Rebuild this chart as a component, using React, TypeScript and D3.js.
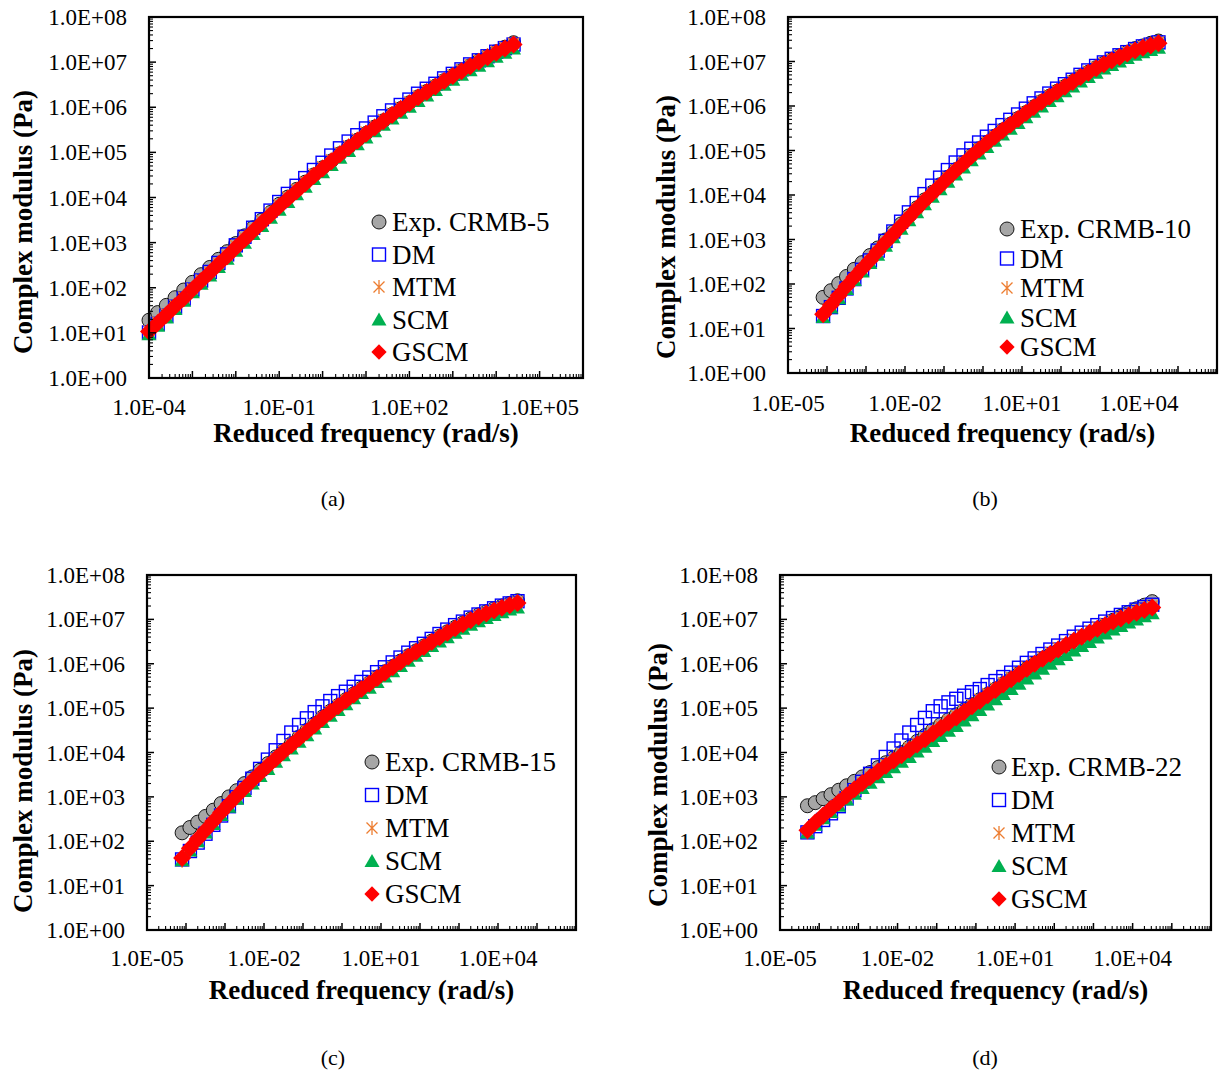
import React from "react";
import * as d3 from "d3";

// log10 of reduced frequency (rad/s) and log10 of complex modulus (Pa)
const logFreqA = [-4.0, -3.8, -3.6, -3.4, -3.2, -3.0, -2.8, -2.6, -2.4, -2.2, -2.0, -1.8, -1.6, -1.4, -1.2, -1.0, -0.8, -0.6, -0.4, -0.2, 0.0, 0.2, 0.4, 0.6, 0.8, 1.0, 1.2, 1.4, 1.6, 1.8, 2.0, 2.2, 2.4, 2.6, 2.8, 3.0, 3.2, 3.4, 3.6, 3.8, 4.0, 4.2, 4.4];
const expA = [1.28, 1.45, 1.61, 1.78, 1.95, 2.12, 2.29, 2.45, 2.63, 2.8, 2.98, 3.15, 3.33, 3.5, 3.67, 3.85, 4.01, 4.18, 4.34, 4.5, 4.66, 4.81, 4.97, 5.12, 5.27, 5.42, 5.56, 5.7, 5.84, 5.97, 6.1, 6.23, 6.35, 6.47, 6.59, 6.7, 6.81, 6.92, 7.03, 7.13, 7.23, 7.33, 7.43];
const dmA = [1.01, 1.2, 1.38, 1.58, 1.76, 1.96, 2.16, 2.35, 2.55, 2.74, 2.94, 3.13, 3.33, 3.52, 3.71, 3.9, 4.08, 4.26, 4.43, 4.61, 4.77, 4.93, 5.09, 5.24, 5.38, 5.53, 5.66, 5.8, 5.93, 6.05, 6.17, 6.3, 6.41, 6.52, 6.64, 6.74, 6.84, 6.95, 7.04, 7.13, 7.23, 7.31, 7.39];
const mtmA = [1.05, 1.24, 1.42, 1.61, 1.79, 1.98, 2.17, 2.35, 2.54, 2.72, 2.93, 3.11, 3.3, 3.48, 3.66, 3.84, 4.01, 4.18, 4.35, 4.52, 4.68, 4.84, 5.0, 5.15, 5.3, 5.45, 5.59, 5.73, 5.87, 6.0, 6.12, 6.25, 6.37, 6.49, 6.61, 6.72, 6.83, 6.94, 7.04, 7.14, 7.24, 7.33, 7.42];
const scmA = [0.97, 1.16, 1.34, 1.53, 1.71, 1.9, 2.09, 2.27, 2.46, 2.64, 2.82, 3.0, 3.19, 3.37, 3.55, 3.73, 3.9, 4.07, 4.24, 4.41, 4.56, 4.72, 4.88, 5.03, 5.18, 5.33, 5.47, 5.61, 5.75, 5.88, 6.01, 6.14, 6.26, 6.38, 6.5, 6.61, 6.72, 6.82, 6.92, 7.02, 7.12, 7.21, 7.3];
const gscmA = [1.03, 1.22, 1.4, 1.59, 1.77, 1.96, 2.15, 2.33, 2.52, 2.7, 2.89, 3.07, 3.26, 3.44, 3.62, 3.8, 3.97, 4.14, 4.31, 4.48, 4.64, 4.8, 4.96, 5.11, 5.26, 5.41, 5.55, 5.69, 5.83, 5.96, 6.09, 6.22, 6.34, 6.46, 6.58, 6.69, 6.8, 6.91, 7.01, 7.11, 7.21, 7.3, 7.39];

const logFreqB = [-4.1, -3.9, -3.7, -3.5, -3.3, -3.1, -2.9, -2.7, -2.5, -2.3, -2.1, -1.9, -1.7, -1.5, -1.3, -1.1, -0.9, -0.7, -0.5, -0.3, -0.1, 0.1, 0.3, 0.5, 0.7, 0.9, 1.1, 1.3, 1.5, 1.7, 1.9, 2.1, 2.3, 2.5, 2.7, 2.9, 3.1, 3.3, 3.5, 3.7, 3.9, 4.1, 4.3, 4.5];
const expB = [1.7, 1.85, 2.01, 2.17, 2.33, 2.48, 2.64, 2.81, 2.99, 3.17, 3.35, 3.53, 3.71, 3.89, 4.06, 4.23, 4.4, 4.57, 4.73, 4.89, 5.04, 5.18, 5.32, 5.46, 5.59, 5.72, 5.85, 5.98, 6.1, 6.22, 6.33, 6.44, 6.55, 6.66, 6.76, 6.86, 6.96, 7.04, 7.13, 7.21, 7.29, 7.35, 7.41, 7.46];
const dmB = [1.28, 1.48, 1.69, 1.9, 2.11, 2.32, 2.53, 2.75, 2.97, 3.18, 3.4, 3.61, 3.82, 4.02, 4.21, 4.39, 4.56, 4.73, 4.89, 5.04, 5.18, 5.31, 5.44, 5.57, 5.69, 5.81, 5.94, 6.06, 6.17, 6.28, 6.39, 6.49, 6.59, 6.7, 6.8, 6.9, 6.98, 7.06, 7.14, 7.21, 7.28, 7.34, 7.38, 7.43];
const mtmB = [1.28, 1.48, 1.69, 1.9, 2.11, 2.3, 2.5, 2.7, 2.91, 3.11, 3.3, 3.5, 3.69, 3.88, 4.05, 4.22, 4.4, 4.57, 4.73, 4.89, 5.04, 5.19, 5.33, 5.47, 5.61, 5.74, 5.87, 6.0, 6.12, 6.24, 6.35, 6.46, 6.57, 6.68, 6.78, 6.88, 6.97, 7.05, 7.13, 7.21, 7.28, 7.34, 7.39, 7.44];
const scmB = [1.26, 1.47, 1.68, 1.89, 2.09, 2.28, 2.47, 2.66, 2.86, 3.05, 3.24, 3.43, 3.61, 3.79, 3.96, 4.13, 4.3, 4.46, 4.62, 4.78, 4.93, 5.08, 5.22, 5.36, 5.49, 5.62, 5.75, 5.87, 5.99, 6.11, 6.22, 6.33, 6.44, 6.55, 6.65, 6.75, 6.84, 6.92, 7.0, 7.08, 7.15, 7.21, 7.26, 7.31];
const gscmB = [1.32, 1.53, 1.74, 1.95, 2.15, 2.34, 2.53, 2.73, 2.93, 3.12, 3.31, 3.5, 3.69, 3.87, 4.04, 4.21, 4.38, 4.55, 4.71, 4.87, 5.02, 5.17, 5.31, 5.45, 5.58, 5.71, 5.84, 5.97, 6.09, 6.21, 6.32, 6.43, 6.54, 6.65, 6.75, 6.85, 6.94, 7.02, 7.1, 7.18, 7.25, 7.31, 7.36, 7.41];

const logFreqC = [-4.1, -3.9, -3.7, -3.5, -3.3, -3.1, -2.9, -2.7, -2.5, -2.3, -2.1, -1.9, -1.7, -1.5, -1.3, -1.1, -0.9, -0.7, -0.5, -0.3, -0.1, 0.1, 0.3, 0.5, 0.7, 0.9, 1.1, 1.3, 1.5, 1.7, 1.9, 2.1, 2.3, 2.5, 2.7, 2.9, 3.1, 3.3, 3.5, 3.7, 3.9, 4.1, 4.3, 4.5];
const expC = [2.19, 2.31, 2.43, 2.56, 2.7, 2.85, 3.0, 3.14, 3.3, 3.45, 3.6, 3.75, 3.9, 4.05, 4.2, 4.35, 4.5, 4.65, 4.8, 4.93, 5.06, 5.19, 5.32, 5.45, 5.57, 5.7, 5.82, 5.94, 6.06, 6.18, 6.29, 6.4, 6.51, 6.62, 6.72, 6.82, 6.92, 7.01, 7.1, 7.17, 7.24, 7.3, 7.36, 7.42];
const dmC = [1.59, 1.78, 1.97, 2.17, 2.37, 2.58, 2.79, 2.99, 3.2, 3.41, 3.63, 3.84, 4.05, 4.26, 4.45, 4.62, 4.77, 4.91, 5.04, 5.16, 5.27, 5.37, 5.48, 5.59, 5.69, 5.81, 5.92, 6.03, 6.14, 6.25, 6.35, 6.45, 6.56, 6.67, 6.77, 6.87, 6.95, 7.04, 7.11, 7.18, 7.25, 7.31, 7.36, 7.41];
const mtmC = [1.56, 1.78, 1.99, 2.19, 2.39, 2.6, 2.79, 2.98, 3.17, 3.35, 3.53, 3.7, 3.87, 4.03, 4.18, 4.34, 4.49, 4.64, 4.79, 4.93, 5.06, 5.19, 5.32, 5.45, 5.57, 5.7, 5.82, 5.94, 6.06, 6.18, 6.29, 6.4, 6.51, 6.62, 6.72, 6.82, 6.91, 7.0, 7.08, 7.15, 7.22, 7.28, 7.34, 7.39];
const scmC = [1.57, 1.79, 2.0, 2.2, 2.39, 2.59, 2.78, 2.96, 3.13, 3.3, 3.47, 3.63, 3.79, 3.94, 4.09, 4.24, 4.39, 4.54, 4.69, 4.83, 4.96, 5.09, 5.22, 5.34, 5.46, 5.59, 5.71, 5.83, 5.95, 6.07, 6.18, 6.29, 6.4, 6.5, 6.6, 6.7, 6.79, 6.88, 6.96, 7.03, 7.1, 7.16, 7.22, 7.27];
const gscmC = [1.62, 1.84, 2.05, 2.25, 2.45, 2.65, 2.84, 3.02, 3.2, 3.37, 3.54, 3.7, 3.86, 4.02, 4.17, 4.32, 4.47, 4.62, 4.77, 4.91, 5.04, 5.17, 5.3, 5.43, 5.55, 5.68, 5.8, 5.92, 6.04, 6.16, 6.27, 6.38, 6.49, 6.6, 6.7, 6.8, 6.89, 6.98, 7.06, 7.13, 7.2, 7.26, 7.32, 7.37];

const logFreqD = [-4.3, -4.1, -3.9, -3.7, -3.5, -3.3, -3.1, -2.9, -2.7, -2.5, -2.3, -2.1, -1.9, -1.7, -1.5, -1.3, -1.1, -0.9, -0.7, -0.5, -0.3, -0.1, 0.1, 0.3, 0.5, 0.7, 0.9, 1.1, 1.3, 1.5, 1.7, 1.9, 2.1, 2.3, 2.5, 2.7, 2.9, 3.1, 3.3, 3.5, 3.7, 3.9, 4.1, 4.3, 4.5];
const expD = [2.8, 2.87, 2.96, 3.05, 3.15, 3.25, 3.35, 3.45, 3.55, 3.66, 3.77, 3.88, 4.0, 4.12, 4.25, 4.38, 4.51, 4.63, 4.74, 4.85, 4.96, 5.08, 5.19, 5.31, 5.43, 5.55, 5.66, 5.78, 5.89, 6.0, 6.11, 6.21, 6.3, 6.37, 6.42, 6.49, 6.62, 6.75, 6.87, 6.98, 7.07, 7.16, 7.24, 7.32, 7.4];
const dmD = [2.2, 2.34, 2.48, 2.63, 2.79, 2.97, 3.15, 3.34, 3.52, 3.71, 3.9, 4.09, 4.27, 4.45, 4.62, 4.78, 4.93, 5.04, 5.13, 5.21, 5.28, 5.36, 5.43, 5.52, 5.61, 5.7, 5.8, 5.91, 6.02, 6.12, 6.22, 6.32, 6.41, 6.51, 6.61, 6.7, 6.79, 6.87, 6.95, 7.03, 7.1, 7.16, 7.22, 7.28, 7.33];
const mtmD = [2.2, 2.37, 2.53, 2.69, 2.85, 3.01, 3.16, 3.31, 3.45, 3.59, 3.73, 3.86, 3.98, 4.1, 4.22, 4.34, 4.47, 4.59, 4.71, 4.83, 4.95, 5.08, 5.2, 5.33, 5.45, 5.57, 5.69, 5.81, 5.93, 6.04, 6.15, 6.26, 6.36, 6.46, 6.56, 6.65, 6.74, 6.83, 6.91, 6.98, 7.05, 7.12, 7.18, 7.24, 7.3];
const scmD = [2.2, 2.37, 2.52, 2.66, 2.8, 2.94, 3.07, 3.2, 3.32, 3.44, 3.56, 3.67, 3.79, 3.9, 4.02, 4.13, 4.26, 4.37, 4.49, 4.6, 4.72, 4.84, 4.96, 5.08, 5.2, 5.32, 5.43, 5.55, 5.67, 5.78, 5.89, 6.0, 6.1, 6.2, 6.3, 6.4, 6.49, 6.59, 6.68, 6.77, 6.85, 6.93, 7.0, 7.07, 7.14];
const gscmD = [2.25, 2.42, 2.58, 2.73, 2.88, 3.03, 3.17, 3.31, 3.44, 3.57, 3.7, 3.82, 3.94, 4.06, 4.18, 4.3, 4.43, 4.55, 4.67, 4.79, 4.91, 5.04, 5.16, 5.29, 5.41, 5.53, 5.65, 5.77, 5.89, 6.0, 6.11, 6.22, 6.32, 6.42, 6.52, 6.61, 6.7, 6.79, 6.87, 6.95, 7.02, 7.09, 7.15, 7.21, 7.27];

const seriesNames = ["DM", "MTM", "SCM", "GSCM"];
const samples = ["CRMB-5", "CRMB-10", "CRMB-15", "CRMB-22"];
const yTickExps = [0, 1, 2, 3, 4, 5, 6, 7, 8];
const xTickExpsA = [-4, -1, 2, 5];
const xTickExpsBCD = [-5, -2, 1, 4];

const FONT = "'Liberation Serif', 'Times New Roman', serif";

const fmtExp = (e: number) => `1.0E${e < 0 ? "-" : "+"}${String(Math.abs(e)).padStart(2, "0")}`;

const panels = [
  { cap: "(a)", box: [149, 583, 17, 378], xDom: [-4, 6], xTicks: xTickExpsA, f: logFreqA, exp: expA, models: [dmA, mtmA, scmA, gscmA], sample: samples[0], yLab: 127, yTitle: [23, 222], xLabY: 415, xTitY: 442, leg: [379, 392, 222, 32.5], capPos: [333, 506] },
  { cap: "(b)", box: [788, 1217, 17, 373], xDom: [-5, 6], xTicks: xTickExpsBCD, f: logFreqB, exp: expB, models: [dmB, mtmB, scmB, gscmB], sample: samples[1], yLab: 766, yTitle: [666, 227], xLabY: 411, xTitY: 442, leg: [1007, 1020, 229, 29.5], capPos: [985, 506] },
  { cap: "(c)", box: [147, 576, 575, 930], xDom: [-5, 6], xTicks: xTickExpsBCD, f: logFreqC, exp: expC, models: [dmC, mtmC, scmC, gscmC], sample: samples[2], yLab: 125, yTitle: [23, 781], xLabY: 966, xTitY: 999, leg: [372, 385, 762, 33], capPos: [333, 1065] },
  { cap: "(d)", box: [780, 1211, 575, 930], xDom: [-5, 6], xTicks: xTickExpsBCD, f: logFreqD, exp: expD, models: [dmD, mtmD, scmD, gscmD], sample: samples[3], yLab: 758, yTitle: [658, 775], xLabY: 966, xTitY: 999, leg: [999, 1011, 767, 33], capPos: [985, 1065] },
];

function Marker({ kind, x, y, s = 1 }: { kind: number; x: number; y: number; s?: number }) {
  const t = `translate(${x},${y}) scale(${s})`;
  if (kind === -1)
    return <circle transform={t} r={7} fill="#a6a6a6" stroke="#000" strokeWidth={0.9} />;
  if (kind === 0)
    return <rect transform={t} x={-6.5} y={-6.5} width={13} height={13} fill="none" stroke="#0000ff" strokeWidth={1.4} />;
  if (kind === 1)
    return <path transform={t} d="M-5.5,-5.5L5.5,5.5M-5.5,5.5L5.5,-5.5M0,-7L0,7" stroke="#ed7d31" strokeWidth={1.3} fill="none" />;
  if (kind === 2)
    return <path transform={t} d="M0,-7L7.5,6L-7.5,6Z" fill="#00b050" />;
  return <path transform={t} d="M0,-9L9,0L0,9L-9,0Z" fill="#ff0000" />;
}

function Panel({ p }: { p: (typeof panels)[number] }) {
  const [l, r, t, b] = p.box;
  const x = d3.scaleLog().domain([10 ** p.xDom[0], 10 ** p.xDom[1]]).range([l, r]);
  const y = d3.scaleLog().domain([1, 1e8]).range([b, t]);

  const xMinor: number[] = [];
  for (let e = p.xDom[0]; e < p.xDom[1]; e++) for (let k = 2; k <= 9; k++) xMinor.push(k * 10 ** e);
  const xMajor = d3.range(p.xDom[0], p.xDom[1] + 1).map((e) => 10 ** e);
  const yMinor: number[] = [];
  for (let e = 0; e < 8; e++) for (let k = 2; k <= 9; k++) yMinor.push(k * 10 ** e);

  const series = [p.exp, ...p.models];
  const [mx, tx, ly0, ldy] = p.leg;
  const legendLabels = [`Exp. ${p.sample}`, ...seriesNames];

  return (
    <g fontFamily={FONT}>
      {series.map((vals, si) => (
        <g key={si}>
          {vals.map((v, i) => (
            <Marker key={i} kind={si - 1} x={x(10 ** p.f[i])} y={y(10 ** v)} />
          ))}
        </g>
      ))}
      <rect x={l} y={t} width={r - l} height={b - t} fill="none" stroke="#000" strokeWidth={2.2} />
      {yTickExps.map((e) => (
        <line key={"ym" + e} x1={l} x2={l + 7} y1={y(10 ** e)} y2={y(10 ** e)} stroke="#000" strokeWidth={1.5} />
      ))}
      {yMinor.map((v, i) => (
        <line key={"yn" + i} x1={l} x2={l + 4} y1={y(v)} y2={y(v)} stroke="#000" strokeWidth={1.1} />
      ))}
      {xMajor.map((v, i) => (
        <line key={"xm" + i} x1={x(v)} x2={x(v)} y1={b} y2={b - 7} stroke="#000" strokeWidth={1.5} />
      ))}
      {xMinor.map((v, i) => (
        <line key={"xn" + i} x1={x(v)} x2={x(v)} y1={b} y2={b - 4} stroke="#000" strokeWidth={1.1} />
      ))}
      {yTickExps.map((e) => (
        <text key={"yl" + e} x={p.yLab} y={y(10 ** e)} dy="0.35em" textAnchor="end" fontSize={23}>
          {fmtExp(e)}
        </text>
      ))}
      {p.xTicks.map((e) => (
        <text key={"xl" + e} x={x(10 ** e)} y={p.xLabY} textAnchor="middle" fontSize={23}>
          {fmtExp(e)}
        </text>
      ))}
      <text x={(l + r) / 2} y={p.xTitY} textAnchor="middle" fontSize={27} fontWeight="bold">
        Reduced frequency (rad/s)
      </text>
      <text
        transform={`translate(${p.yTitle[0]},${p.yTitle[1]}) rotate(-90)`}
        dy="0.35em"
        textAnchor="middle"
        fontSize={27}
        fontWeight="bold"
      >
        Complex modulus (Pa)
      </text>
      {legendLabels.map((lab, i) => (
        <g key={"lg" + i}>
          <Marker kind={i - 1} x={mx} y={ly0 + i * ldy} s={i === 4 ? 0.85 : 1} />
          <text x={tx} y={ly0 + i * ldy} dy="0.35em" fontSize={27}>
            {lab}
          </text>
        </g>
      ))}
      <text x={p.capPos[0]} y={p.capPos[1]} textAnchor="middle" fontSize={22}>
        {p.cap}
      </text>
    </g>
  );
}

export default function App() {
  return (
    <svg
      width={1219}
      height={1074}
      style={{ position: "absolute", left: 0, top: 0, background: "#fff" }}
    >
      {panels.map((p) => (
        <Panel key={p.cap} p={p} />
      ))}
    </svg>
  );
}
